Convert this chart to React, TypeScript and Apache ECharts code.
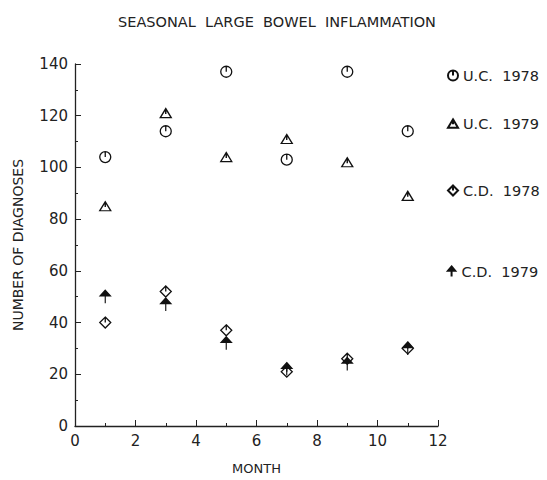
import React, { useEffect, useRef } from "react";
import * as echarts from "echarts";

const months = [1, 3, 5, 7, 9, 11];
const uc1978 = [104, 114, 137, 103, 137, 114];
const uc1979 = [85, 121, 104, 111, 102, 89];
const cd1978 = [40, 52, 37, 21, 26, 30];
const cd1979 = [50, 47, 32, 22, 24, 30];

const seriesNames = ["U.C. 1978", "U.C. 1979", "C.D. 1978", "C.D. 1979"];
const legendLabels = ["U.C.  1978", "U.C.  1979", "C.D.  1978", "C.D.  1979"];
const legendTops = [63, 111, 178, 259];

const symCircle = "path://M-6,0 A6,6 0 1,1 6,0 A6,6 0 1,1 -6,0 Z M0,-6 L0,0";
const symTri = "path://M0,-5 L6,5 L-6,5 Z M0,-5 L0,1";
const symDiamond = "path://M0,-6 L6,0 L0,6 L-6,0 Z M0,-6 L0,0";
const symArrow = "path://M0,-6 L5,0 L-5,0 Z M0,-6 L0,8";

export default function App() {
  const ref = useRef<HTMLDivElement>(null);
  useEffect(() => {
    const chart = echarts.init(ref.current!, null, { renderer: "svg" });
    const font = "DejaVu Sans";
    const mk = (name: string, vals: number[], symbol: string, size: number[], filled: boolean) => ({
      type: "scatter",
      name,
      data: months.map((m, i) => [m, vals[i]]),
      symbol,
      symbolSize: size,
      itemStyle: {
        color: filled ? "#111" : "rgba(255,255,255,0)",
        borderColor: "#111",
        borderWidth: 1.3,
        opacity: 1,
      },
      emphasis: { disabled: true },
    });
    chart.setOption({
      animation: false,
      backgroundColor: "#fff",
      title: {
        text: "SEASONAL  LARGE  BOWEL  INFLAMMATION",
        left: 272,
        top: 9,
        textAlign: "center",
        textStyle: { fontFamily: font, fontSize: 14.5, fontWeight: "normal", color: "#222" },
      },
      legend: seriesNames.map((n, i) => ({
        data: [n],
        left: 442,
        top: legendTops[i],
        itemWidth: 10,
        itemHeight: 10,
        itemGap: 7,
        selectedMode: false,
        formatter: () => legendLabels[i],
        textStyle: { fontFamily: font, fontSize: 14.5, color: "#222" },
      })),
      grid: { left: 75, right: 109, top: 64, bottom: 50 },
      xAxis: {
        type: "value",
        min: 0,
        max: 12,
        interval: 2,
        name: "MONTH",
        nameLocation: "middle",
        nameGap: 36,
        nameTextStyle: { fontFamily: font, fontSize: 13, color: "#222" },
        axisLine: { lineStyle: { color: "#222", width: 1.3 } },
        axisTick: { inside: true, length: 6, lineStyle: { color: "#222" } },
        minorTick: { show: true, splitNumber: 2, length: 3, lineStyle: { color: "#222" } },
        axisLabel: { fontFamily: font, fontSize: 15, color: "#222", margin: 7 },
        splitLine: { show: false },
      },
      yAxis: {
        type: "value",
        min: 0,
        max: 140,
        interval: 20,
        name: "NUMBER OF DIAGNOSES",
        nameLocation: "middle",
        nameGap: 50,
        nameTextStyle: { fontFamily: font, fontSize: 14, color: "#222" },
        axisLine: { show: true, lineStyle: { color: "#222", width: 1.3 } },
        axisTick: { show: true, inside: true, length: 6, lineStyle: { color: "#222" } },
        minorTick: { show: true, splitNumber: 2, length: 3, lineStyle: { color: "#222" } },
        axisLabel: { fontFamily: font, fontSize: 15, color: "#222", margin: 7 },
        splitLine: { show: false },
      },
      series: [
        mk(seriesNames[0], uc1978, symCircle, [11, 11], false),
        mk(seriesNames[1], uc1979, symTri, [11, 9], false),
        mk(seriesNames[2], cd1978, symDiamond, [11, 11], false),
        mk(seriesNames[3], cd1979, symArrow, [10, 13], true),
      ],
    });
    return () => chart.dispose();
  }, []);
  return <div ref={ref} style={{ width: 547, height: 480, position: "absolute", left: 0, top: 0 }} />;
}
